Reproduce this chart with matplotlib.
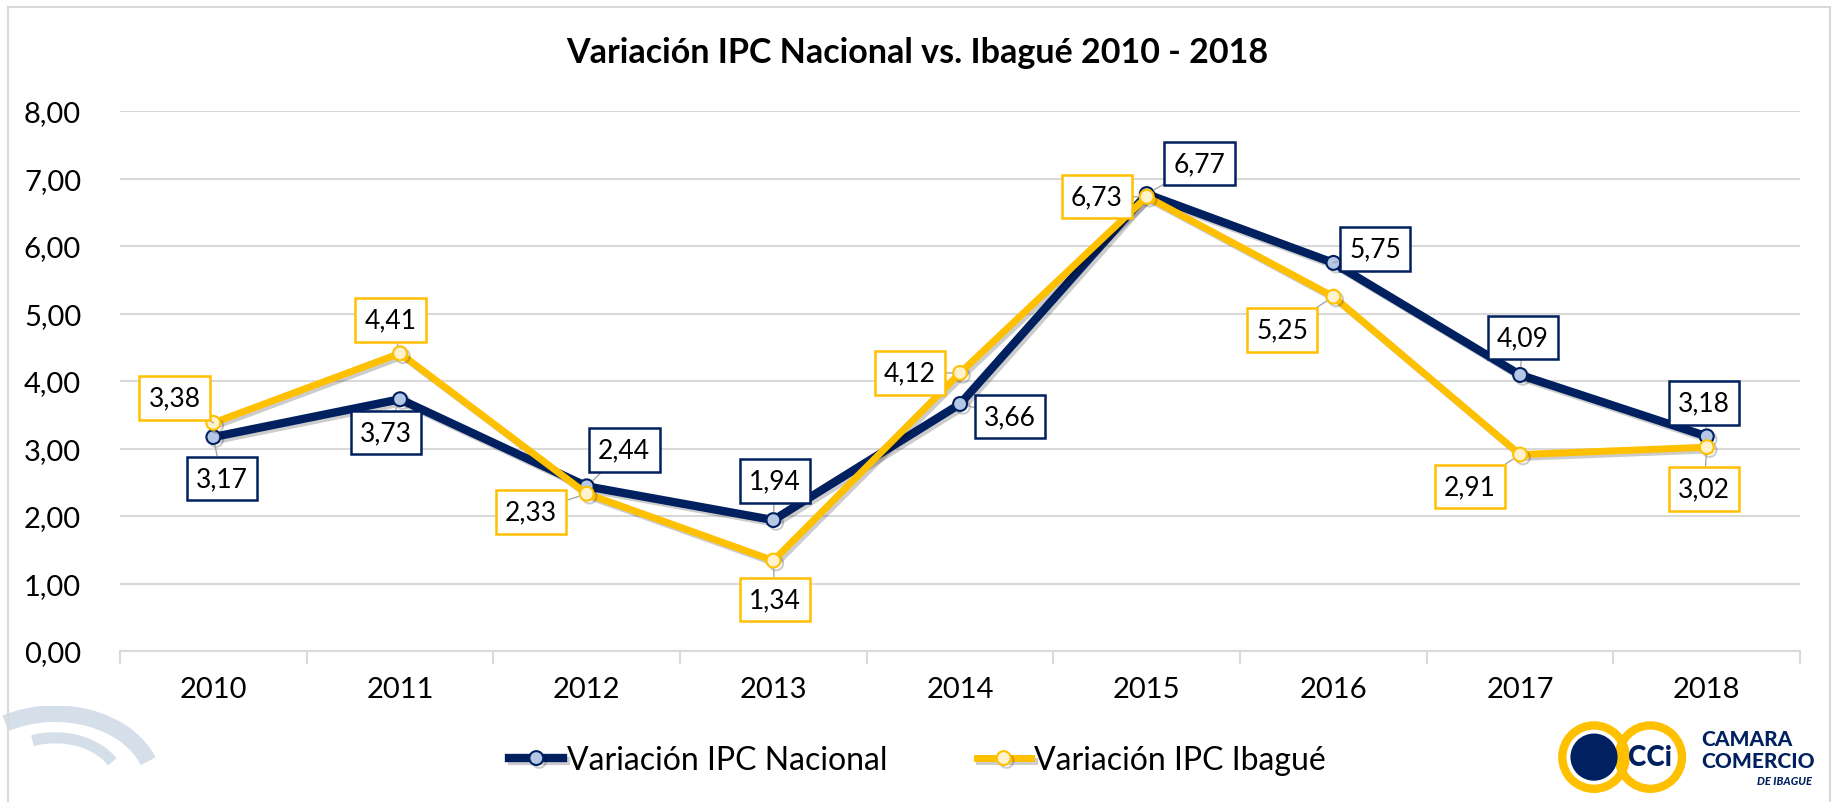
import numpy as np
import matplotlib.pyplot as plt
import matplotlib.patheffects as pe
from matplotlib.patches import Rectangle, Circle, Arc

plt.rcParams['font.family'] = ['Lato', 'DejaVu Sans']

years = ['2010', '2011', '2012', '2013', '2014', '2015', '2016', '2017', '2018']
nacional = [3.17, 3.73, 2.44, 1.94, 3.66, 6.77, 5.75, 4.09, 3.18]
ibague = [3.38, 4.41, 2.33, 1.34, 4.12, 6.73, 5.25, 2.91, 3.02]

# label offsets (points) relative to each data point
off_nac = [(6, -30), (-10, -24), (27, 26), (1, 28), (36, -9), (38, 22), (30, 10), (2, 27), (-2, 24)]
off_iba = [(-28, 18), (-7, 24), (-40, -13), (1, -28), (-36, 0), (-36, 0), (-37, -24), (-36, -23), (-2, -30)]

navy = '#002060'
navy_fill = '#B4C7E7'
gold = '#FFC000'
gold_fill = '#FFF2CC'

fig = plt.figure(figsize=(18.35, 8.03), dpi=100)
ax = fig.add_axes([0.0654, 0.188, 0.9156, 0.6725])

x = np.arange(len(years))
shadow = [pe.SimpleLineShadow(offset=(2, -2), alpha=0.2, rho=0.4), pe.Normal()]
ax.plot(x, nacional, color=navy, lw=6, marker='o', ms=10, mfc=navy_fill, mec=navy,
        mew=1.5, label='Variación IPC Nacional', zorder=3, path_effects=shadow)
ax.plot(x, ibague, color=gold, lw=5, marker='o', ms=10, mfc=gold_fill, mec=gold,
        mew=1.5, label='Variación IPC Ibagué', zorder=4, path_effects=shadow)


def fmt(v):
    return f'{v:.2f}'.replace('.', ',')


for vals, offs, ec in [(nacional, off_nac, navy), (ibague, off_iba, gold)]:
    for i, (v, o) in enumerate(zip(vals, offs)):
        ax.annotate(fmt(v), (i, v), xytext=o, textcoords='offset points',
                    ha='center', va='center', fontsize=19, zorder=6,
                    bbox=dict(boxstyle='square,pad=0.35', fc='white', ec=ec, lw=1.8),
                    arrowprops=dict(arrowstyle='-', color='#A6A6A6', lw=1,
                                    shrinkA=0, shrinkB=6))

ax.set_xlim(-0.5, len(years) - 0.5)
ax.set_ylim(0, 8)
ax.set_yticks(np.arange(0, 9, 1))
ax.set_yticklabels([fmt(v) for v in np.arange(0, 9, 1)], fontsize=21)
ax.yaxis.grid(True, color='#D9D9D9', lw=1.5)
ax.set_axisbelow(True)
ax.tick_params(axis='y', length=0, pad=28)

ax.set_xticks(np.arange(-0.5, len(years), 1))
ax.set_xticklabels([])
ax.set_xticks(x, minor=True)
ax.set_xticklabels(years, minor=True, fontsize=21)
ax.tick_params(axis='x', which='major', length=9, color='#D9D9D9', width=1.5)
ax.tick_params(axis='x', which='minor', length=0, pad=18)

for s in ['top', 'right', 'left']:
    ax.spines[s].set_visible(False)
ax.spines['bottom'].set_color('#D9D9D9')
ax.spines['bottom'].set_linewidth(1.5)

fig.text(0.5, 0.934, 'Variación IPC Nacional vs. Ibagué 2010 - 2018', ha='center',
         va='center', fontsize=24.5, fontweight='bold')

fig.legend(loc='center', bbox_to_anchor=(0.5, 0.052), ncol=2, frameon=False,
           fontsize=23, handlelength=1.7, handletextpad=0.1, columnspacing=2.8)

# chart frame
fig.patches.append(Rectangle((8 / 1835, -0.01), 1822 / 1835, 1 - 8 / 803 + 0.01,
                             transform=fig.transFigure, fill=False, ec='#D9D9D9', lw=1.5))

# faint watermark at lower left
wm = fig.add_axes([-0.03, -0.08, 0.12, 0.2])
wm.set_xlim(0, 1)
wm.set_ylim(0, 1)
wm.axis('off')
wm.add_patch(Arc((0.5, 0.5), 0.9, 0.9, theta1=20, theta2=120, color='#D5DFEA', lw=12))
wm.add_patch(Arc((0.5, 0.5), 0.6, 0.6, theta1=30, theta2=110, color='#D5DFEA', lw=8))

# logo at lower right (1 unit = 88 px)
lg = fig.add_axes([1550 / 1835, 0.0, 285 / 1835, 88 / 803])
lg.set_xlim(0, 285 / 88)
lg.set_ylim(0, 1)
lg.axis('off')
lg.add_patch(Circle((0.5, 0.51), 0.36, fill=False, ec=gold, lw=6))
lg.add_patch(Circle((1.14, 0.51), 0.36, fill=False, ec=gold, lw=6))
lg.add_patch(Circle((0.5, 0.51), 0.26, color=navy))
lg.text(1.14, 0.51, 'CCi', ha='center', va='center', fontsize=20, fontweight='black',
        color=navy)
lg.text(1.72, 0.72, 'CAMARA', ha='left', va='center', fontsize=15, fontweight='black',
        color=navy)
lg.text(1.72, 0.47, 'COMERCIO', ha='left', va='center', fontsize=15, fontweight='black',
        color=navy)
lg.text(2.35, 0.24, 'DE IBAGUE', ha='left', va='center', fontsize=8, fontweight='black',
        style='italic', color=navy)

fig.savefig('out.png', dpi=100)
